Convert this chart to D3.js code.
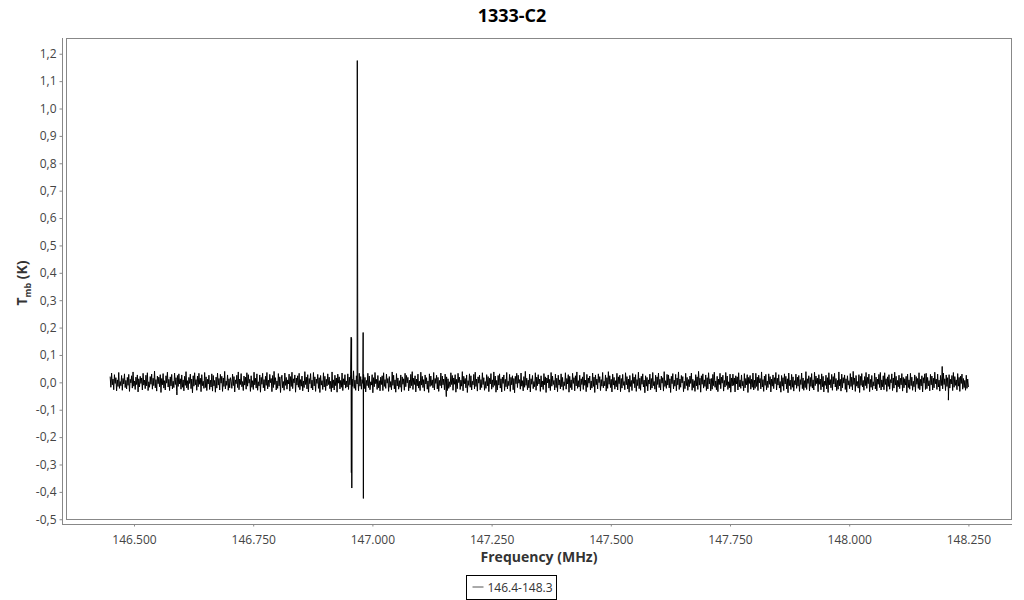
<!DOCTYPE html>
<html>
<head>
<meta charset="utf-8">
<script src="https://cdn.jsdelivr.net/npm/d3@7"></script>
<style>
  body { margin: 0; background: #fff; font-family: "Open Sans", "Noto Sans", sans-serif; }
  svg { display: block; }
</style>
</head>
<body>
<div id="chart"></div>
<script>
// Spectrum 1333-C2, channel grid 146.45 - 148.25 MHz
const chartTitle = '1333-C2';
const seriesName = '146.4-148.3';
const freqStart = 146.45;
const freqEnd = 148.25;

// Baseline noise per channel (mK), estimated from the band in the picture
const noiseMilliK = [
  21,-18,34,-9,12,-27,28,-4,17,-31,9,-15,36,-22,3,-12,25,-29,14,-6,31,-19,7,-24,18,-11,29,-33,11,-2,
  24,-21,38,-14,5,-26,19,-8,27,-35,13,-17,22,-4,16,-28,33,-10,8,-23,26,-13,35,-30,2,-18,21,-7,30,-25,
  15,-12,41,-20,10,-32,23,-5,19,-16,28,-37,14,-9,32,-21,6,-28,24,-3,37,-17,11,-30,20,-13,29,-24,4,-19,
  34,-8,17,-34,25,-15,31,-6,13,-25,27,-18,9,-31,22,-11,39,-20,6,-27,18,-4,30,-23,12,-38,24,-14,35,-9,
  10,-29,23,-16,33,-7,15,-34,28,-12,4,-22,36,-19,20,-30,11,-6,26,-26,8,-17,31,-32,25,-13,7,-36,19,-21,
  34,-10,14,-28,29,-3,22,-33,16,-15,40,-24,5,-11,27,-29,13,-20,17,4,-22,30,-12,21,-35,9,-5,26,-19,38,
  -27,12,-8,32,-16,3,-30,23,-10,19,-25,35,-14,28,-3,11,-33,24,-18,6,-26,37,-9,15,-21,31,-29,2,-13,27,
  -36,18,-7,33,-20,10,-31,22,-11,36,-24,8,-16,29,-1,14,-34,25,-19,40,-8,17,-28,5,-22,32,-13,20,-37,12,
  26,-20,3,-29,34,-11,18,-25,9,-6,30,-32,21,-15,37,-23,13,-2,27,-36,16,-10,24,-18,33,-27,10,-14,23,-31,
  5,-19,39,-8,19,-24,28,-35,14,-5,32,-21,8,-28,36,-13,20,-33,12,-4,29,-22,17,-37,25,-10,6,-26,35,-17,
  22,-30,11,-13,31,-8,19,-23,4,-34,38,-20,9,-28,26,-12,16,-36,30,-3,20,-24,7,-18,34,-30,13,-9,28,-21,
  5,-17,31,-26,19,-9,27,-33,12,-15,42,-22,8,-29,24,-6,15,-31,33,-14,21,-25,10,-4,29,-23,18,-35,7,-12,
  33,-19,23,-27,2,-10,28,-38,17,-16,36,-5,11,-26,25,-20,6,-31,19,-8,24,-30,35,-15,10,-22,30,-3,14,-33,
  21,-18,3,-27,38,-11,26,-24,9,-36,32,-13,16,-25,6,-18,27,-34,20,-7,13,-29,33,-16,25,-2,18,-31,8,-21,
  29,-12,39,-26,15,-8,24,-35,12,-13,30,-21,4,-30,37,-10,22,-19,10,-32,27,-6,17,-25,5,-37,31,-15,23,-11,
  9,-20,36,-28,14,-4,26,-24,18,-33,7,-12,34,-21,23,-9,12,-27,30,-17,20,-30,13,-22,2,-16,35,-8,25,-29,
  16,-7,28,-36,11,-23,33,-1,19,-26,8,-14,39,-31,22,-5,14,-20,27,-37,6,-11,31,-18,24,-28,4,-9,29,-24,
  37,-15,12,-32,20,-3,26,-27,10,-19,35,-8,17,-29,3,-22,28,-13,21,-34,15,-6,32,-25,9,-18,38,-11,23,-36,
  7,-28,25,-10,31,-21,13,-35,19,-4,27,-30,11,-16,36,-24,4,-12,29,-33,18,-9,24,-27,14,-38,22,-5,33,-19,
  26,-3,10,-25,34,-14,6,-31,21,-18,40,-11,15,-27,8,-20,30,-35,13,-7,25,-23,3,-16,35,-29,19,-12,28,-6,
  12,-33,24,-17,5,-26,32,-9,20,-37,16,-2,27,-21,11,-30,36,-14,23,-8,7,-28,30,-19,15,-34,26,-10,9,-24,
  31,-16,18,-29,2,-12,35,-25,14,-6,28,-36,22,-19,9,-27,33,-4,17,-31,24,-13,38,-22,6,-17,26,-32,13,-8,
  20,-26,37,-11,8,-34,29,-18,16,-3,23,-28,5,-21,34,-15,19,-37,27,-9,12,-24,31,-1,21,-30,10,-14,36,-20,
  4,-13,27,-32,17,-22,39,-7,24,-19,11,-35,30,-10,18,-25,6,-16,33,-28,20,-5,26,-34,14,-21,29,-11,3,-27,
  35,-9,21,-24,12,-36,25,-15,7,-30,32,-4,19,-20,28,-33,10,-12,37,-23,15,-29,22,-7,31,-17,8,-38,24,-14,
  18,-31,9,-6,30,-27,14,-21,36,-12,3,-25,26,-35,20,-8,34,-19,11,-28,23,-3,17,-32,39,-15,6,-22,29,-10,
  27,-20,13,-37,22,-5,32,-24,8,-14,29,-31,16,-9,38,-26,12,-18,25,-2,21,-34,4,-23,33,-12,18,-29,10,-16,
  23,-4,34,-29,11,-19,6,-33,28,-13,20,-26,40,-10,15,-36,24,-7,31,-21,9,-15,27,-30,17,-24,35,-6,13,-31,
  14,-25,29,-12,37,-18,5,-27,22,-34,12,-8,33,-23,19,-3,26,-32,7,-17,36,-11,23,-26,2,-20,30,-36,16,-13,
  30,-11,16,-35,24,-6,20,-28,35,-16,9,-22,27,-13,4,-31,32,-20,14,-9,28,-37,18,-4,25,-25,11,-18,34,-28,
  8,-22,33,-15,19,-30,26,-2,14,-24,38,-17,10,-33,23,-11,29,-27,5,-19,31,-7,21,-35,12,-14,27,-23,17,-5,
  36,-28,15,-10,28,-21,3,-36,25,-14,17,-30,31,-6,22,-24,13,-38,34,-12,8,-26,29,-18,20,-32,6,-9,30,-22,
  19,-14,25,-33,10,-8,34,-23,16,-29,6,-19,39,-26,13,-4,24,-31,18,-15,32,-21,9,-28,37,-12,23,-5,15,-34,
  28,-7,12,-27,31,-16,22,-35,4,-11,26,-24,17,-37,35,-9,10,-20,29,-29,21,-6,33,-17,14,-30,7,-25,38,-13,
  11,-32,30,-20,17,-3,27,-26,13,-36,24,-10,6,-23,32,-15,19,-28,40,-8,16,-33,25,-14,3,-21,28,-37,22,-11,
  32,-17,7,-29,21,-12,36,-22,18,-5,30,-34,11,-18,25,-27,2,-13,34,-24,19,-31,12,-7,29,-19,36,-28,9,-16,
  24,-27,35,-8,13,-33,20,-15,28,-25,10,-2,31,-30,16,-21,37,-10,22,-36,7,-16,26,-23,15,-9,32,-32,18,-20,
  13,-10,22,-38,30,-19,9,-25,33,-12,19,-29,4,-16,27,-34,21,-7,14,-22,35,-27,11,-13,24,-35,17,-3,31,-26,
  33,-23,18,-13,6,-31,29,-9,23,-28,15,-20,37,-5,12,-26,30,-17,8,-32,25,-12,20,-24,34,-8,13,-30,27,-15,
  17,-34,28,-21,11,-6,25,-30,36,-18,21,-11,9,-27,32,-14,18,-33,23,-4,30,-25,14,-19,7,-29,26,-22,12,-17
];

// Narrow features [frequency MHz, Tmb K]
const features = [
  [146.590, -0.046],
  [146.9555, 0.165],
  [146.9559, -0.330],
  [146.9563, 0.160],
  [146.9568, -0.386],
  [146.9683, 1.175],
  [146.9806, 0.182],
  [146.9811, -0.424],
  [147.155, -0.052],
  [148.195, 0.058],
  [148.208, -0.065]
];

const xTicks = [146.5, 146.75, 147.0, 147.25, 147.5, 147.75, 148.0, 148.25];
const yTicks = [-0.5, -0.4, -0.3, -0.2, -0.1, 0, 0.1, 0.2, 0.3, 0.4, 0.5, 0.6, 0.7, 0.8, 0.9, 1.0, 1.1, 1.2];

const W = 1024, H = 600;
const margin = { top: 38, right: 12, bottom: 80, left: 66 };
const iw = W - margin.left - margin.right;
const ih = H - margin.top - margin.bottom;

const locale = d3.formatLocale({ decimal: ',', thousands: '.', grouping: [3], currency: ['', ''], minus: '-' });
const fmtY = locale.format('.1f');
const fmtX = d3.format('.3f');

const x = d3.scaleLinear().domain([146.3574, 148.3414]).range([0, iw]);
const y = d3.scaleLinear().domain([-0.5027, 1.2575]).range([ih, 0]);

// build series: noise on the channel grid + narrow features, sorted by frequency
const step = (freqEnd - freqStart) / (noiseMilliK.length - 1);
const series = noiseMilliK.map((v, i) => ({ f: freqStart + i * step, t: v / 1000 }))
  .concat(features.map(d => ({ f: d[0], t: d[1] })))
  .sort((a, b) => a.f - b.f);

const svg = d3.select('#chart').append('svg')
  .attr('width', W)
  .attr('height', H);

svg.append('text')
  .attr('x', 512)
  .attr('y', 22)
  .attr('text-anchor', 'middle')
  .attr('font-size', 18)
  .attr('font-weight', 'bold')
  .attr('fill', '#000')
  .text(chartTitle);

const g = svg.append('g').attr('transform', `translate(${margin.left},${margin.top})`);

// plot box
g.append('rect')
  .attr('x', 0.5).attr('y', 0.5)
  .attr('width', iw - 1).attr('height', ih - 1)
  .attr('fill', 'none')
  .attr('stroke', '#888');

// y axis sits a few px left of the box
const yAxis = g.append('g')
  .attr('transform', 'translate(-3.5,0)')
  .call(d3.axisLeft(y).tickValues(yTicks).tickFormat(fmtY).tickSize(3).tickSizeOuter(0));
yAxis.select('.domain').attr('stroke', '#888').attr('d', `M0,0V${ih + 4}`);

const xAxis = g.append('g')
  .attr('transform', `translate(0,${ih + 4.5})`)
  .call(d3.axisBottom(x).tickValues(xTicks).tickFormat(fmtX).tickSize(2).tickSizeOuter(0));
xAxis.select('.domain').attr('stroke', '#888').attr('d', `M-4,0H${iw}`);

[yAxis, xAxis].forEach(a => {
  a.selectAll('.tick line').attr('stroke', '#888');
  a.selectAll('.tick text')
    .attr('font-family', '"Open Sans", "Noto Sans", sans-serif')
    .attr('font-size', 12)
    .attr('fill', '#444');
});
xAxis.selectAll('.tick text').attr('dy', '1.2em');

// spectrum
const line = d3.line().x(d => x(d.f)).y(d => y(d.t));
g.append('path')
  .datum(series)
  .attr('fill', 'none')
  .attr('stroke', '#000')
  .attr('stroke-width', 1)
  .attr('d', line);

// axis labels
svg.append('text')
  .attr('x', margin.left + iw / 2)
  .attr('y', 562)
  .attr('text-anchor', 'middle')
  .attr('font-size', 14)
  .attr('font-weight', 'bold')
  .attr('fill', '#333')
  .text('Frequency (MHz)');

const yl = svg.append('text')
  .attr('transform', 'translate(27,283) rotate(-90)')
  .attr('text-anchor', 'middle')
  .attr('font-size', 14)
  .attr('font-weight', 'bold')
  .attr('fill', '#333');
yl.append('tspan').text('T');
yl.append('tspan').attr('font-size', 9).attr('dy', 4).text('mb');
yl.append('tspan').attr('dy', -4).text(' (K)');

// legend
const lg = svg.append('g').attr('transform', 'translate(466.5,575.5)');
lg.append('rect')
  .attr('width', 90).attr('height', 24)
  .attr('fill', '#fff')
  .attr('stroke', '#000');
lg.append('line')
  .attr('x1', 6).attr('x2', 17)
  .attr('y1', 11.5).attr('y2', 11.5)
  .attr('stroke', '#555');
lg.append('text')
  .attr('x', 21).attr('y', 16)
  .attr('font-size', 12)
  .attr('fill', '#333')
  .text(seriesName);
</script>
</body>
</html>
